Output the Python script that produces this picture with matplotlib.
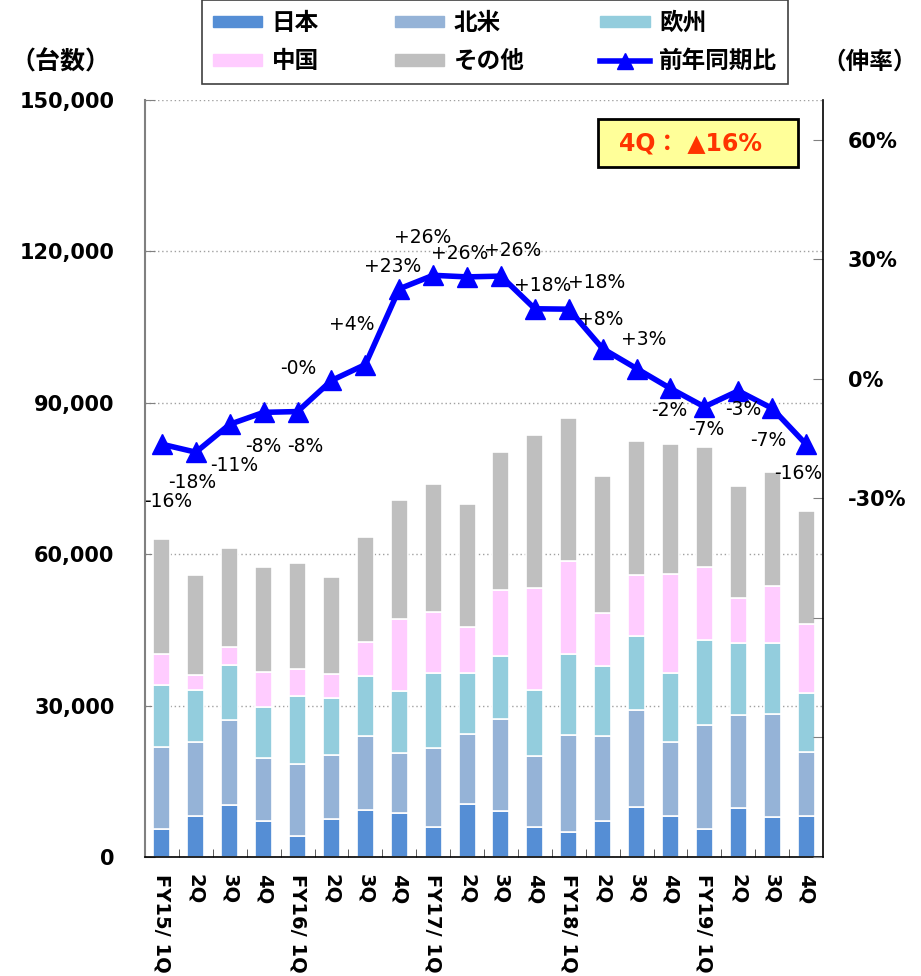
import numpy as np
import matplotlib
matplotlib.use("Agg")
import matplotlib.pyplot as plt
from matplotlib.patches import Patch, Rectangle
from matplotlib.lines import Line2D
from matplotlib.ticker import FuncFormatter

plt.rcParams['font.family'] = ['DejaVu Sans', 'Noto Sans CJK JP']

quarters = ['FY15/ 1Q', '2Q', '3Q', '4Q', 'FY16/ 1Q', '2Q', '3Q', '4Q',
            'FY17/ 1Q', '2Q', '3Q', '4Q', 'FY18/ 1Q', '2Q', '3Q', '4Q',
            'FY19/ 1Q', '2Q', '3Q', '4Q']

# units sold per region
japan = [5600, 8200, 10300, 7100, 4200, 7500, 9400, 8700, 5900, 10500,
         9100, 5900, 4900, 7200, 10000, 8100, 5600, 9800, 7900, 8100]
north_america = [16200, 14500, 16900, 12500, 14300, 12800, 14600, 11900, 15600, 13800,
                 18200, 14200, 19300, 16800, 19100, 14600, 20600, 18300, 20400, 12800]
europe = [12300, 10300, 10900, 10100, 13500, 11300, 11900, 12300, 14900, 12100,
          12500, 12900, 16000, 13900, 14600, 13700, 16700, 14400, 14200, 11500]
china = [6200, 3100, 3600, 6900, 5200, 4600, 6700, 14200, 12100, 9200,
         13200, 20400, 18400, 10400, 12200, 19700, 14500, 8800, 11100, 13700]
other = [22800, 19800, 19500, 20900, 21100, 19300, 20800, 23600, 25400, 24300,
         27200, 30200, 28400, 27100, 26500, 25700, 23900, 22200, 22700, 22400]

# year-on-year growth (%)
yoy = [-16.4, -18.4, -11.4, -8.4, -8.2, -0.4, 3.6, 22.6, 26.0, 25.6,
       25.8, 17.6, 17.5, 7.6, 2.6, -2.4, -7.0, -3.0, -7.4, -16.4]

series = [japan, north_america, europe, china, other]
names = ['日本', '北米', '欧州', '中国', 'その他']
colors = ['#558ED5', '#95B3D7', '#93CDDD', '#FFCCFF', '#BFBFBF']

# label offsets in pixels (dx, dy downwards)
label_off = [(6, 57), (-4, 30), (4, 41), (0, 34), (8, 35), (-33, -12), (-14, -40),
             (-7, -22), (-11, -38), (-7, -23), (12, -26), (8, -23), (28, -27),
             (-2, -29), (7, -29), (-1, 22), (2, 23), (5, 19), (-4, 32), (-8, 29)]

W, H = 921, 976
fig = plt.figure(figsize=(W / 100, H / 100), dpi=100)
ax = fig.add_axes([145 / W, 119 / H, (823 - 145) / W, 757 / H])

x = np.arange(len(quarters))
bottom = np.zeros(len(quarters))
for vals, c in zip(series, colors):
    ax.bar(x, vals, width=0.5, bottom=bottom, color=c, edgecolor='white', linewidth=1.2, zorder=2)
    bottom += np.array(vals)

ax.set_xlim(-0.5, len(quarters) - 0.5)
ax.set_ylim(0, 150000)
ax.set_yticks(np.arange(0, 150001, 30000))
ax.yaxis.set_major_formatter(FuncFormatter(lambda v, p: f'{v:,.0f}'))
ax.grid(axis='y', linestyle=(0, (1, 2)), color='#A0A0A0', linewidth=1)
ax.set_axisbelow(True)
ax.set_xticks(x)
ax.set_xticklabels(quarters, rotation=-90, fontsize=14, fontweight='bold', va='top', ha='center')
ax.set_xticks(x[:-1] + 0.5, minor=True)
ax.tick_params(axis='x', which='major', length=0, pad=12)
ax.tick_params(axis='x', which='minor', direction='in', length=6, color='#404040')
ax.tick_params(axis='y', direction='in', length=7, color='#808080', pad=22, labelsize=15)
for lab in ax.get_yticklabels():
    lab.set_fontweight('bold')
ax.spines['top'].set_visible(False)
ax.spines['right'].set_visible(False)
ax.spines['left'].set_color('#808080')
ax.spines['left'].set_linewidth(1.5)
ax.spines['bottom'].set_color('black')
ax.spines['bottom'].set_linewidth(1.2)

ax2 = ax.twinx()
ax2.set_ylim(-120, 70)
ax2.set_yticks(np.arange(-120, 61, 30))
ax2.set_yticklabels(['' if t < -30 else f'{t}%' for t in range(-120, 61, 30)],
                    fontsize=15, fontweight='bold')
ax2.tick_params(axis='y', direction='in', length=7, color='#808080', pad=18)
for s in ['top', 'left', 'bottom']:
    ax2.spines[s].set_visible(False)
ax2.spines['right'].set_color('black')
ax2.spines['right'].set_linewidth(1.2)

ax2.plot(x, yoy, color='#0000FF', linewidth=4, marker='^', markersize=14, zorder=3)
for xi, v, (dx, dy) in zip(x, yoy, label_off):
    ax2.annotate(f'{v:+.0f}%', (xi, v), xytext=(dx, -dy), textcoords='offset pixels',
                 ha='center', va='center', fontsize=13.5, annotation_clip=False)

# legend
handles = [Patch(color=c) for c in colors]
handles.append(Line2D([], [], color='#0000FF', linewidth=4, marker='^', markersize=12))
labels = names + ['前年同期比']
order = [0, 3, 1, 4, 2, 5]
leg = fig.legend([handles[i] for i in order], [labels[i] for i in order],
                 loc='center', bbox_to_anchor=(495 / W, 1 - 42 / H), ncol=3,
                 prop={'size': 17, 'weight': 'bold'}, handlelength=2.1, handleheight=0.4,
                 handletextpad=0.4, columnspacing=3.2, labelspacing=0.6,
                 fancybox=False, framealpha=1, edgecolor='#404040', borderpad=0.45)
leg.get_frame().set_linewidth(1.2)

fig.text(60 / W, 1 - 62 / H, '（台数）', fontsize=18, fontweight='bold', ha='center', va='center')
fig.text(870 / W, 1 - 62 / H, '（伸率）', fontsize=17, fontweight='bold', ha='center', va='center')

# callout box
fig.patches.append(Rectangle((598 / W, 1 - 167 / H), 200 / W, 48 / H, transform=fig.transFigure,
                             facecolor='#FFFF99', edgecolor='black', linewidth=2, zorder=5))
fig.text(690 / W, 1 - 144 / H, '4Q： ▲16%', color='#FF3300', fontsize=17, fontweight='bold',
         ha='center', va='center', zorder=6)

fig.savefig('out.png', dpi=100)
